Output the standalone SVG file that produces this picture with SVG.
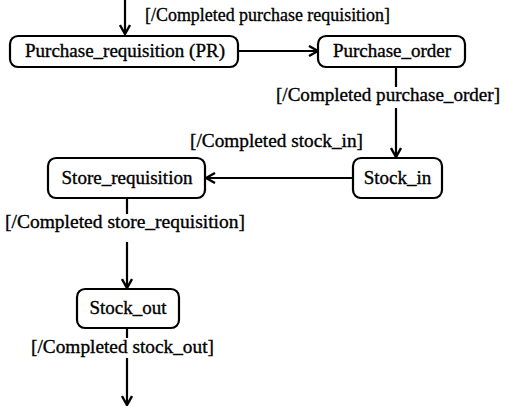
<svg xmlns="http://www.w3.org/2000/svg" width="506" height="406" viewBox="0 0 506 406">
<defs>
<style>
.box{fill:#fff;stroke:#000;stroke-width:2.2}
.t{font-family:"Liberation Serif","Times New Roman",serif;font-size:19px;fill:#000;stroke:#000;stroke-width:0.35;text-anchor:middle}
.l{font-family:"Liberation Serif","Times New Roman",serif;font-size:19px;fill:#000;stroke:#000;stroke-width:0.35}
.c{stroke:#000;stroke-width:2.2;fill:none}
</style>
<marker id="ah" markerWidth="12" markerHeight="12" viewBox="0 0 12 12" refX="11" refY="6" orient="auto" markerUnits="userSpaceOnUse">
<path d="M2,1 L11,6 L2,11" fill="none" stroke="#000" stroke-width="2.4"/>
</marker>
</defs>
<rect width="506" height="406" fill="#fff"/>
<g id="connectors">
<line class="c" x1="125" y1="0" x2="125" y2="34" marker-end="url(#ah)"/>
<line class="c" x1="238" y1="51" x2="318" y2="51" marker-end="url(#ah)"/>
<line class="c" x1="396" y1="67" x2="396" y2="87"/>
<line class="c" x1="396" y1="108" x2="396" y2="157" marker-end="url(#ah)"/>
<line class="c" x1="353" y1="178" x2="206" y2="178" marker-end="url(#ah)"/>
<line class="c" x1="127" y1="198" x2="127" y2="214"/>
<line class="c" x1="127" y1="242" x2="127" y2="288" marker-end="url(#ah)"/>
<line class="c" x1="127" y1="328" x2="127" y2="338"/>
<line class="c" x1="127" y1="358" x2="127" y2="405" marker-end="url(#ah)"/>
<text class="l" x="145" y="21" textLength="245" lengthAdjust="spacingAndGlyphs">[/Completed purchase requisition]</text>
<text class="l" x="276" y="101" textLength="224" lengthAdjust="spacingAndGlyphs">[/Completed purchase_order]</text>
<text class="l" x="190" y="147" textLength="173" lengthAdjust="spacingAndGlyphs">[/Completed stock_in]</text>
<text class="l" x="5" y="228" textLength="240" lengthAdjust="spacingAndGlyphs">[/Completed store_requisition]</text>
<text class="l" x="31" y="353" textLength="183" lengthAdjust="spacingAndGlyphs">[/Completed stock_out]</text>
</g>
<g id="pr">
<rect class="box" x="10" y="36" width="228" height="31" rx="8"/>
<text class="t" x="125" y="57">Purchase_requisition (PR)</text>
</g>
<g id="po">
<rect class="box" x="318" y="36" width="147" height="31" rx="8"/>
<text class="t" x="392" y="57">Purchase_order</text>
</g>
<g id="stock_in">
<rect class="box" x="353" y="158" width="89" height="40" rx="8"/>
<text class="t" x="397.5" y="184">Stock_in</text>
</g>
<g id="store_req">
<rect class="box" x="48" y="158" width="157" height="40" rx="8"/>
<text class="t" x="127" y="184">Store_requisition</text>
</g>
<g id="stock_out">
<rect class="box" x="77" y="289" width="102" height="39" rx="8"/>
<text class="t" x="128" y="314">Stock_out</text>
</g>
</svg>
